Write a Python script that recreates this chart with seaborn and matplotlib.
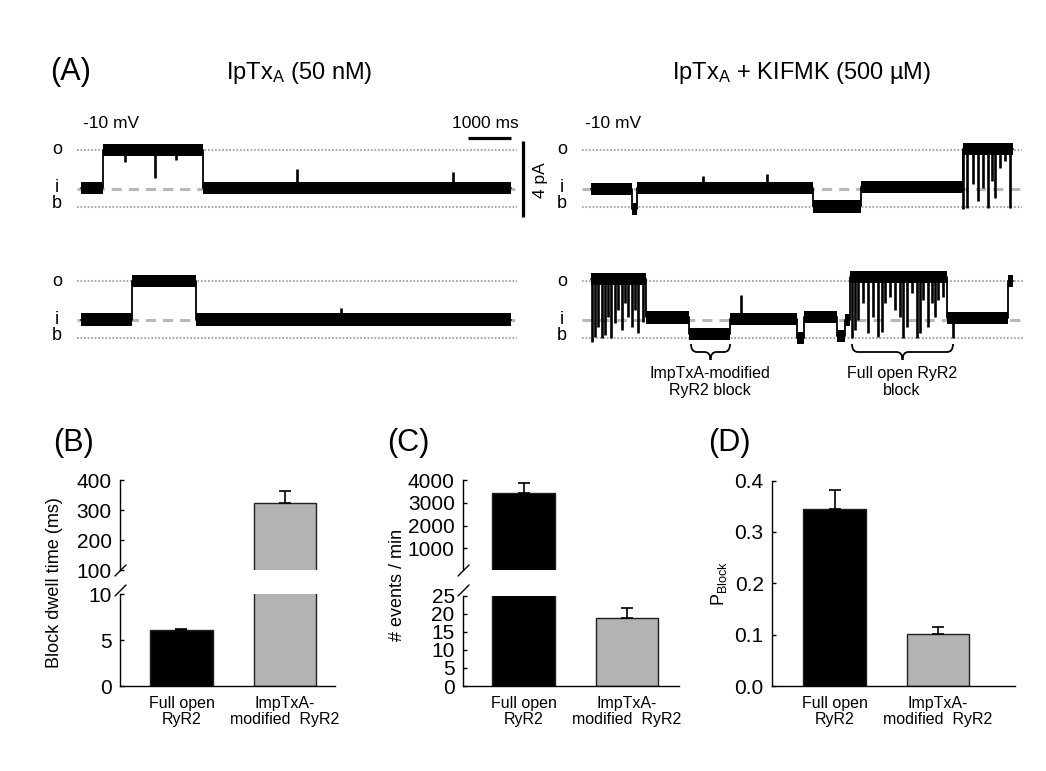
import numpy as np
import pandas as pd
import matplotlib
matplotlib.use('Agg')
import matplotlib.pyplot as plt
import seaborn as sns
from matplotlib.path import Path
from matplotlib.patches import PathPatch

W, H = 1046, 771

# ---- single channel traces: state edges (ms) and current levels (pA, blocked = 0)
LEVEL_O = 3.0
LEVEL_I = 0.95
LEVEL_B = 0.0

# IpTxA, sweep 1
tr1_edges = [0, 507, 2804, 9908]
tr1_levels = [1.0, 3.02, 1.0]
tr1_spike_t = [1014, 1714, 2182, 4984, 8565]
tr1_spike_pa = [2.35, 1.55, 2.5, 2.0, 1.85]

# IpTxA, sweep 2
tr2_edges = [0, 1170, 2650, 9903]
tr2_levels = [0.97, 3.02, 0.97]
tr2_spike_t = [5990]
tr2_spike_pa = [1.6]

# IpTxA + KIFMK, sweep 1
tr3_edges = [0, 937, 1060, 5122, 6221, 8564, 9723]
tr3_levels = [0.95, -0.1, 1.02, 0.03, 1.05, 3.05]
tr3_spike_t = [2588, 4048, 8578, 8657, 8809, 8924, 9039, 9154, 9233, 9309, 9424, 9539, 9654]
tr3_spike_pa = [1.63, 1.72, -0.12, -0.04, 1.19, 0.32, 1.02, -0.04, 1.37, 0.49, 2.07, 2.42, -0.04]

# IpTxA + KIFMK, sweep 2
tr4_edges = [0, 1267, 2265, 3203, 4740, 4908, 5661, 5853, 5968, 8196, 9615, 9730]
tr4_levels = [3.1, 1.08, 0.2, 1.0, 0.0, 1.12, 0.1, 0.95, 3.2, 1.04, 3.0]
tr4_spike_t = [16, 92, 169, 246, 323, 399, 461, 553, 629, 707, 783, 860, 937, 1014, 1090, 1205,
               3449,
               6006, 6083, 6160, 6275, 6390, 6505, 6620, 6698, 6774, 6889, 7005, 7120, 7196,
               7274, 7389, 7505, 7581, 7657, 7772, 7850, 7926, 8002, 8118,
               8334]
tr4_spike_pa = [-0.19, 0.07, 0.6, -0.02, 0.16, 1.12, -0.02, 0.77, 1.47, 0.42, 1.82, 1.12, 0.6, 1.47, 0.25, 0.86,
                2.25,
                -0.02, 0.42, 0.95, 1.82, 0.25, 1.12, 0.07, 0.33, 1.82, 2.18, 1.47, 1.12, -0.02,
                0.6, 2.35, -0.02, 0.25, 2.0, 0.6, 1.82, 1.12, 2.0, 2.18,
                0.0]

SCALE_T = 1000   # ms
SCALE_I = 4      # pA

# ---- summary bars
BAR_GROUPS = ['Full open\nRyR2', 'ImpTxA-\nmodified  RyR2']
BAR_COLORS = ['#000000', '#b3b3b3']
dwell_mean = [6.14, 322]
dwell_sem = [0.11, 40]
events_mean = [3417, 18.9]
events_sem = [440, 2.6]
pblock_mean = [0.344, 0.101]
pblock_sem = [0.037, 0.014]

sns.set_theme(style='ticks')
plt.rcParams['font.family'] = ['Liberation Sans', 'DejaVu Sans']
plt.rcParams['mathtext.default'] = 'regular'
for k in ['text.color', 'axes.edgecolor', 'axes.labelcolor', 'xtick.color', 'ytick.color']:
    plt.rcParams[k] = 'black'

fig = plt.figure(figsize=(W / 100, H / 100), dpi=100)
ov = fig.add_axes([0, 0, 1, 1])
ov.set_xlim(0, W)
ov.set_ylim(H, 0)
ov.set_axis_off()


def px_rect(x0, y0, x1, y1):
    return [x0 / W, 1 - y1 / H, (x1 - x0) / W, (y1 - y0) / H]


PX_PER_MS = 0.0434
PX_PER_PA = 19.0
NOISE = 0.32


def trace_axes(x_lo, x_hi, x_start, y_b, y_top, y_bot):
    ax = fig.add_axes(px_rect(x_lo, y_top, x_hi, y_bot))
    ax.set_xlim((x_lo - x_start) / PX_PER_MS, (x_hi - x_start) / PX_PER_MS)
    ax.set_ylim((y_b - y_bot) / PX_PER_PA, (y_b - y_top) / PX_PER_PA)
    ax.set_axis_off()
    for lv in (LEVEL_O, LEVEL_B):
        ax.axhline(lv, color='#a8a8a8', lw=1.5, ls=(0, (0.8, 0.9)), zorder=1)
    ax.axhline(LEVEL_I, color='#b8b8b8', lw=2.2, ls=(0, (3.3, 2.3)), zorder=1)
    return ax


def draw_trace(ax, edges, levels, spike_t, spike_pa):
    y = np.array(list(levels) + [levels[-1]])
    ax.fill_between(edges, y - NOISE, y + NOISE, step='post', color='black', lw=0, zorder=2)
    sns.lineplot(x=edges, y=y, drawstyle='steps-post', estimator=None, sort=False,
                 color='black', lw=1.3, ax=ax, zorder=3, legend=False)
    idx = np.searchsorted(edges, spike_t, side='right') - 1
    base = np.array(levels)[np.clip(idx, 0, len(levels) - 1)]
    ax.vlines(spike_t, base, spike_pa, color='black', lw=1.9, zorder=3)
    ax.set_xlabel('')
    ax.set_ylabel('')
    ax.set_axis_off()


ax1 = trace_axes(77, 517, 81, 207, 110, 232)
draw_trace(ax1, tr1_edges, tr1_levels, tr1_spike_t, tr1_spike_pa)
t0 = tr1_edges[-1] - SCALE_T
ax1.plot([t0, t0 + SCALE_T], [3.63, 3.63], color='black', lw=2.3, clip_on=False, solid_capstyle='butt')
xv = (523 - 81) / PX_PER_MS
ax1.plot([xv, xv], [-0.53, -0.53 + SCALE_I], color='black', lw=2.3, clip_on=False, solid_capstyle='butt')

ax2 = trace_axes(77, 517, 81, 338, 250, 362)
draw_trace(ax2, tr2_edges, tr2_levels, tr2_spike_t, tr2_spike_pa)

ax3 = trace_axes(582, 1022, 591, 207, 110, 232)
draw_trace(ax3, tr3_edges, tr3_levels, tr3_spike_t, tr3_spike_pa)

ax4 = trace_axes(582, 1023, 591, 338, 250, 362)
draw_trace(ax4, tr4_edges, tr4_levels, tr4_spike_t, tr4_spike_pa)

# ---- panel A texts
ov.text(50, 72, '(A)', fontsize=22, ha='left', va='center')
ov.text(299, 73, 'IpTx$_{A}$ (50 nM)', fontsize=17, ha='center', va='center')
ov.text(802, 73, 'IpTx$_{A}$ + KIFMK (500 µM)', fontsize=17, ha='center', va='center')
ov.text(83, 123, '-10 mV', fontsize=12.5, ha='left', va='center')
ov.text(585, 123, '-10 mV', fontsize=12.5, ha='left', va='center')
ov.text(485, 123, '1000 ms', fontsize=12.5, ha='center', va='center')
ov.text(541, 180, '4 pA', fontsize=12.5, ha='center', va='center', rotation=90)
for xl, yb in [(57, 207), (562, 207), (57, 338), (562, 338)]:
    ov.text(xl, yb - 57, 'o', fontsize=13, ha='center', va='center')
    ov.text(xl, yb - 19, 'i', fontsize=13, ha='center', va='center')
    ov.text(xl, yb - 3, 'b', fontsize=13, ha='center', va='center')


def brace(x0, x1, ytop, ybot, r=6):
    xm = (x0 + x1) / 2
    ym = (ytop + ybot) / 2
    verts = [(x0, ytop), (x0, ym), (x0 + r, ym), (xm - r, ym), (xm, ym), (xm, ybot),
             (xm, ym), (xm + r, ym), (x1 - r, ym), (x1, ym), (x1, ytop)]
    codes = [Path.MOVETO, Path.CURVE3, Path.CURVE3, Path.LINETO, Path.CURVE3, Path.CURVE3,
             Path.CURVE3, Path.CURVE3, Path.LINETO, Path.CURVE3, Path.CURVE3]
    ov.add_patch(PathPatch(Path(verts, codes), fill=False, lw=1.3, edgecolor='black'))


brace(691, 730, 344, 360)
brace(852, 953, 344, 360)
ov.text(710, 382, 'ImpTxA-modified\nRyR2 block', fontsize=11.5, ha='center', va='center', linespacing=1.2)
ov.text(902, 382, 'Full open RyR2\nblock', fontsize=11.5, ha='center', va='center', linespacing=1.2)


# ---- bar panels
def bar_axes(rect, xlim, values, sems, ylim, yticks, ticklabels=None, lower=True):
    ax = fig.add_axes(px_rect(*rect))
    df = pd.DataFrame({'group': BAR_GROUPS, 'value': values})
    sns.barplot(data=df, x='group', y='value', hue='group', palette=BAR_COLORS, legend=False,
                width=0.604, edgecolor='#202020', linewidth=1.0, ax=ax)
    # error bars only where the bar top lies inside this segment
    keep = [i for i, v in enumerate(values) if ylim[0] < v < ylim[1]]
    if keep:
        ax.errorbar(x=keep, y=[values[i] for i in keep],
                    yerr=[[0] * len(keep), [sems[i] for i in keep]], fmt='none', ecolor='black',
                    elinewidth=1.2, capsize=4, capthick=1.2, zorder=5)
    ax.set_xlim(*xlim)
    ax.set_ylim(*ylim)
    ax.set_yticks(yticks)
    if ticklabels is not None:
        ax.set_yticklabels(ticklabels)
    ax.set_xlabel('')
    ax.set_ylabel('')
    ax.set_facecolor('none')
    ax.tick_params(axis='y', direction='in', length=3, width=1, labelsize=15, pad=6)
    ax.tick_params(axis='x', length=0, labelsize=11.5, pad=7)
    for lab in ax.get_xticklabels():
        lab.set_linespacing(1.1)
    sns.despine(ax=ax, bottom=not lower)
    for sp in ax.spines.values():
        sp.set_linewidth(1.0)
    if not lower:
        ax.tick_params(axis='x', bottom=False, labelbottom=False)
    return ax


bar_axes((120, 480, 335, 570), (-0.594, 1.483), dwell_mean, dwell_sem, (100, 400), [100, 200, 300, 400], lower=False)
bar_axes((120, 594, 335, 686), (-0.594, 1.483), dwell_mean, dwell_sem, (0, 10), [0, 5, 10])
bar_axes((463, 480, 679, 570), (-0.585, 1.502), events_mean, events_sem, (48, 4000), [1000, 2000, 3000, 4000], lower=False)
bar_axes((463, 595.5, 679, 686), (-0.585, 1.502), events_mean, events_sem, (0, 25), [0, 5, 10, 15, 20, 25])
bar_axes((772, 480.5, 1015, 686), (-0.604, 1.744), pblock_mean, pblock_sem, (0, 0.4),
         [0, 0.1, 0.2, 0.3, 0.4], ['0.0', '0.1', '0.2', '0.3', '0.4'])

# axis break marks
for xa in (120, 463):
    for yc in (570.5, 590.5):
        ov.plot([xa - 5, xa + 6], [yc + 5.5, yc - 5.5], color='black', lw=1.0)

ov.text(53, 443, '(B)', fontsize=22, ha='left', va='center')
ov.text(387, 443, '(C)', fontsize=22, ha='left', va='center')
ov.text(708, 443, '(D)', fontsize=22, ha='left', va='center')
ov.text(55, 583, 'Block dwell time (ms)', fontsize=13, ha='center', va='center', rotation=90)
ov.text(398, 585, '# events / min', fontsize=13, ha='center', va='center', rotation=90)
ov.text(719, 583, 'P$_{Block}$', fontsize=13, ha='center', va='center', rotation=90)

fig.savefig('out.png', dpi=100)
